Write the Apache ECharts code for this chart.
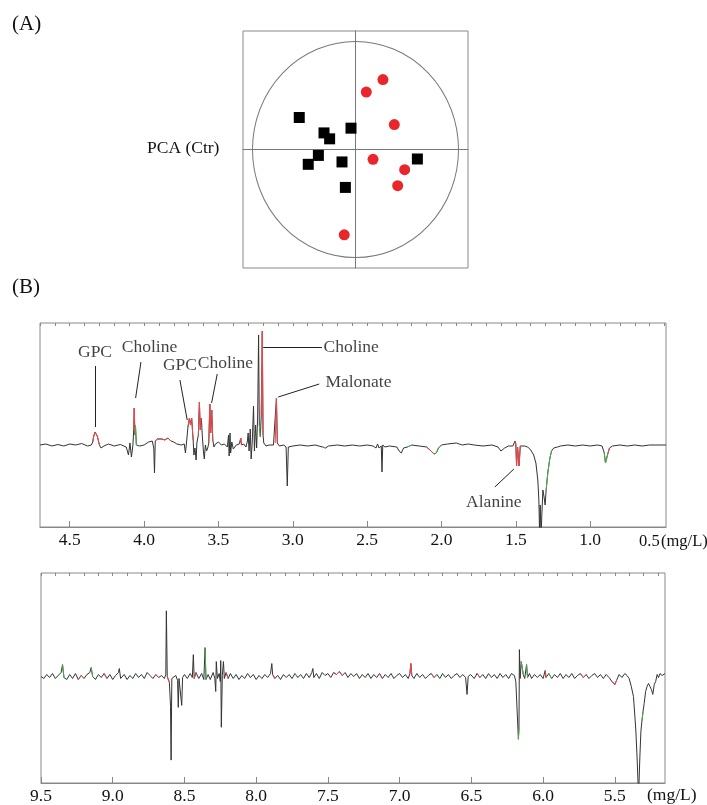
<!DOCTYPE html>
<html>
<head>
<meta charset="utf-8">
<script src="https://cdn.jsdelivr.net/npm/echarts@6/dist/echarts.min.js"></script>
<style>
html, body { margin: 0; padding: 0; background: #fff; }
#myChart { width: 707px; height: 805px; }
</style>
</head>
<body>
<div id="myChart"></div>
<script>
// (A) PCA scores, control (squares) and treated (dots)
var ctrScores = [[-0.50, 0.27], [-0.28, 0.14], [-0.23, 0.09], [-0.04, 0.18], [-0.33, -0.05],
  [-0.42, -0.125], [-0.12, -0.105], [-0.09, -0.32], [0.55, -0.08]];
var trtScores = [[0.244, 0.59], [0.096, 0.485], [0.345, 0.21], [0.156, -0.083], [0.437, -0.17],
  [0.375, -0.305], [-0.10, -0.72]];

// (B) tick labels
var topLabels = [4.5, 4.0, 3.5, 3.0, 2.5, 2.0, 1.5, 1.0];
var bottomLabels = [9.5, 9.0, 8.5, 8.0, 7.5, 7.0, 6.5, 6.0, 5.5];

// (B) upper trace, 4.7 - 0.5 ppm  [ppm, intensity]
var topTrace = [
  [4.70, 0], [4.66, 1], [4.62, -1], [4.58, 0.5], [4.54, -1], [4.50, 1], [4.46, 0], [4.42, 1.5],
  [4.38, -1], [4.355, 0], [4.345, 3], [4.34, 8], [4.33, 13], [4.315, 9], [4.30, 0], [4.29, -3],
  [4.27, -1], [4.24, 1], [4.20, -1], [4.16, 0.5], [4.12, -2], [4.105, -10], [4.095, 2], [4.085, -12],
  [4.075, 0], [4.07, 15], [4.066, 37], [4.062, 10], [4.058, 20], [4.052, 0], [4.03, -1], [4.00, 0],
  [3.97, 3], [3.945, 4], [3.935, -3], [3.930, -28], [3.925, 4], [3.91, 6], [3.90, 4], [3.88, 6],
  [3.86, 5], [3.84, 7], [3.82, 4], [3.80, 3], [3.78, 1], [3.75, 0], [3.73, 1], [3.722, -8],
  [3.715, 2], [3.705, 18], [3.695, 27], [3.688, 20], [3.680, 27], [3.670, 5], [3.665, -10],
  [3.658, -3], [3.650, -15], [3.645, 2], [3.635, 10], [3.628, 43], [3.622, 15], [3.615, 27],
  [3.608, 8], [3.600, -8], [3.595, -14], [3.588, 0], [3.580, -6], [3.572, -3], [3.565, 2],
  [3.558, 41], [3.552, 12], [3.545, 35], [3.538, 5], [3.530, -2], [3.520, 1], [3.50, 3], [3.48, 0],
  [3.46, 1], [3.44, -2], [3.432, 10], [3.428, -11], [3.422, 12], [3.418, -8], [3.41, 3], [3.40, -4],
  [3.38, 0], [3.36, 1], [3.355, 2], [3.35, 7], [3.345, 0], [3.33, 1], [3.315, -2], [3.305, 4],
  [3.300, 12], [3.294, -6], [3.286, 16], [3.280, -14], [3.272, 5], [3.264, 39], [3.258, -6],
  [3.250, 20], [3.243, -3], [3.236, 30], [3.230, 110], [3.225, 20], [3.218, 8], [3.212, 30],
  [3.205, 114], [3.200, 10], [3.195, 2], [3.18, -1], [3.16, 0], [3.13, 0], [3.118, 2], [3.110, 47],
  [3.104, 2], [3.09, -1], [3.06, 0], [3.045, -2], [3.037, -41], [3.030, -2], [3.00, -1], [2.95, 0],
  [2.90, -1], [2.85, 0], [2.80, -2], [2.78, -3], [2.76, -1], [2.70, 0], [2.65, -1], [2.60, 0],
  [2.55, -1], [2.50, 0], [2.46, -1], [2.44, -3], [2.43, 1], [2.42, -3], [2.405, -1], [2.400, -27],
  [2.395, 0], [2.38, -2], [2.35, -1], [2.30, -2], [2.285, -6], [2.27, -8], [2.255, -3], [2.23, -2],
  [2.20, 0], [2.15, -1], [2.10, -2], [2.07, -6], [2.05, -9], [2.035, -8], [2.02, -3], [2.00, 0],
  [1.96, 1], [1.90, 2], [1.86, 0], [1.82, 1], [1.78, 0], [1.72, -1], [1.66, 0], [1.62, -2],
  [1.60, -6], [1.59, -7], [1.575, -3], [1.55, -1], [1.52, -1], [1.505, 4], [1.50, 1], [1.495, -21],
  [1.488, -2], [1.478, -21], [1.470, -1], [1.46, 0], [1.44, -1], [1.42, -2], [1.40, -5], [1.38, -10],
  [1.365, -18], [1.352, -35], [1.345, -55], [1.340, -90], [1.336, -60], [1.330, -90], [1.325, -70],
  [1.318, -45], [1.310, -52], [1.303, -60], [1.296, -45], [1.285, -28], [1.272, -14], [1.26, -6],
  [1.245, -3], [1.22, -2], [1.20, -1], [1.15, 0], [1.10, -1], [1.05, 0], [1.00, -1], [0.95, 0],
  [0.92, -1], [0.905, -8], [0.897, -18], [0.89, -14], [0.88, -8], [0.87, -3], [0.85, -1], [0.80, 0],
  [0.75, -1], [0.70, 0], [0.65, -1], [0.60, 0], [0.55, 0], [0.49, 0]
];
// ppm ranges drawn red / green
var topRed = [[4.30, 4.345], [4.062, 4.07], [3.82, 3.925], [3.670, 3.705], [3.615, 3.635],
  [3.538, 3.565], [3.345, 3.355], [3.200, 3.212], [3.104, 3.118], [2.05, 2.10], [1.47, 1.505],
  [0.87, 0.88]];
var topGreen = [[4.052, 4.062], [3.218, 3.225], [2.78, 2.80], [2.20, 2.23], [2.02, 2.05],
  [1.26, 1.296], [0.88, 0.905]];

// (B) lower trace, 9.5 - 5.15 ppm
var bottomTrace = [
  [9.500, 0], [9.480, -2], [9.460, 2], [9.440, -1], [9.420, 3], [9.400, -2], [9.380, 1], [9.360, 4],
  [9.350, 12], [9.340, -1], [9.320, -3], [9.300, 2], [9.280, -2], [9.260, 3], [9.240, -3], [9.220, 1],
  [9.200, -2], [9.180, 2], [9.160, 4], [9.150, 9], [9.140, 0], [9.120, -3], [9.100, 2], [9.080, -1],
  [9.060, 3], [9.040, -2], [9.020, 2], [9.000, -3], [8.980, 1], [8.960, 4], [8.954, 8], [8.945, -2],
  [8.920, 2], [8.900, -3], [8.880, 1], [8.860, -2], [8.840, 3], [8.820, -1], [8.800, 2], [8.780, -2],
  [8.760, 4], [8.740, 1], [8.720, -2], [8.700, 2], [8.680, -1], [8.660, 1], [8.640, -2], [8.630, 2],
  [8.626, 66], [8.620, 0], [8.605, -6], [8.597, -30], [8.593, -84], [8.588, -2], [8.575, -3],
  [8.560, 1], [8.548, -4], [8.543, -31], [8.538, -2], [8.525, -3], [8.519, -29], [8.513, -1],
  [8.500, 2], [8.480, -2], [8.460, 3], [8.445, -1], [8.438, 22], [8.432, -2], [8.420, 4], [8.400, -2],
  [8.380, 3], [8.365, -3], [8.356, 29], [8.350, -3], [8.335, 2], [8.320, -3], [8.300, 4], [8.288, -2],
  [8.282, -15], [8.278, 15], [8.270, -2], [8.258, 3], [8.250, -5], [8.247, 16], [8.243, -51],
  [8.236, 1], [8.228, 15], [8.222, -2], [8.210, 4], [8.195, -2], [8.180, 3], [8.160, -2], [8.140, 2],
  [8.120, -3], [8.100, 1], [8.080, -2], [8.060, 3], [8.040, -1], [8.020, 2], [8.000, -3], [7.980, 1],
  [7.960, -2], [7.940, 2], [7.920, -1], [7.900, 3], [7.891, 13], [7.885, 2], [7.870, -2], [7.850, 1],
  [7.830, -3], [7.810, 2], [7.790, -1], [7.770, 2], [7.750, -2], [7.730, 3], [7.710, -1], [7.690, 2],
  [7.670, -2], [7.650, 3], [7.630, -1], [7.612, 4], [7.605, 8], [7.598, -1], [7.580, 3], [7.560, -2],
  [7.540, 4], [7.520, 1], [7.500, 3], [7.480, -1], [7.460, 4], [7.440, 2], [7.420, 5], [7.400, 1],
  [7.380, 4], [7.360, -1], [7.340, 3], [7.320, 0], [7.300, 3], [7.280, -2], [7.260, 2], [7.240, -1],
  [7.220, 3], [7.200, -2], [7.180, 2], [7.160, -1], [7.140, 3], [7.120, -2], [7.100, 2], [7.080, -1],
  [7.060, 3], [7.040, -2], [7.020, 1], [7.000, 3], [6.980, -1], [6.960, 2], [6.940, -2], [6.928, 3],
  [6.922, 13], [6.915, 1], [6.900, -2], [6.880, 3], [6.860, -1], [6.840, 2], [6.820, -2], [6.800, 1],
  [6.780, 3], [6.760, -1], [6.740, 2], [6.720, -2], [6.700, 3], [6.680, -1], [6.660, 2], [6.640, -2],
  [6.620, 1], [6.600, 3], [6.580, -1], [6.560, 2], [6.540, -1], [6.530, -18], [6.522, 0], [6.505, 2],
  [6.480, -2], [6.460, 3], [6.440, -1], [6.420, 2], [6.400, -2], [6.380, 3], [6.360, -1], [6.340, 2],
  [6.320, -2], [6.300, 3], [6.280, -1], [6.260, 2], [6.240, -2], [6.220, 3], [6.200, 1], [6.190, -5],
  [6.180, -3], [6.172, -63], [6.168, -52], [6.165, 27], [6.160, -2], [6.152, 15], [6.145, 17],
  [6.138, 2], [6.128, -2], [6.115, 12], [6.108, -1], [6.095, 3], [6.080, -2], [6.060, 2], [6.040, -1],
  [6.020, 2], [6.000, -2], [5.985, 6], [5.980, -1], [5.960, 3], [5.940, -2], [5.920, 2], [5.900, -1],
  [5.880, 3], [5.860, -2], [5.840, 2], [5.820, -1], [5.800, 3], [5.780, -2], [5.760, 1], [5.740, 3],
  [5.720, -1], [5.700, 2], [5.680, -2], [5.660, 1], [5.640, 3], [5.620, -1], [5.600, 2], [5.580, -2],
  [5.560, 2], [5.540, -1], [5.520, -5], [5.500, -8], [5.485, -3], [5.470, 2], [5.450, -1], [5.430, 3],
  [5.415, 1], [5.400, -2], [5.385, -10], [5.370, -20], [5.360, -40], [5.353, -55], [5.345, -80],
  [5.338, -107], [5.332, -110], [5.325, -80], [5.318, -55], [5.311, -45], [5.303, -35], [5.295, -27],
  [5.285, -15], [5.275, -10], [5.265, -7], [5.255, -10], [5.245, -13], [5.235, -18], [5.225, -8],
  [5.215, -5], [5.205, 2], [5.195, -1], [5.185, 3], [5.170, 1], [5.150, 3]
];
var bottomRed = [[9.22, 9.24], [9.04, 9.06], [8.68, 8.70], [8.605, 8.62], [8.42, 8.432],
  [8.195, 8.21], [7.87, 7.885], [7.44, 7.46], [7.40, 7.42], [7.12, 7.14], [6.915, 6.928],
  [6.76, 6.78], [6.44, 6.46], [5.98, 5.985], [5.72, 5.74], [5.485, 5.52]];
var bottomGreen = [[9.34, 9.35], [9.14, 9.15], [8.82, 8.84], [8.35, 8.356], [7.71, 7.73],
  [7.24, 7.26], [6.68, 6.70], [6.36, 6.38], [6.168, 6.172], [6.138, 6.152], [6.108, 6.115],
  [5.94, 5.96], [5.303, 5.311]];

// peak annotations on the upper trace
var peakNames = ['GPC', 'Choline', 'GPC', 'Choline', 'Alanine'];
var peakNameAt = [[4.33, 93], [3.964, 98], [3.759, 80], [3.453, 82], [1.648, -57]];
var peakLeaders = [[[4.33, 79], [4.33, 18]], [[4.021, 83], [4.057, 47]], [[3.759, 65], [3.71, 25]],
  [[3.508, 71], [3.546, 42]], [[1.641, -42], [1.513, -24]]];
var sideNames = ['Choline', 'Malonate'];
var sideNameAt = [[2.797, 98], [2.784, 63]];
var sideLeaders = [[[3.199, 98], [2.804, 98]], [[3.098, 48], [2.822, 61]]];

var serif = 'Liberation Serif';
var ink = '#111';

function pick(trace, ranges) {
  return trace.map(function (p) {
    var hit = ranges.some(function (r) { return p[0] >= r[0] - 1e-6 && p[0] <= r[1] + 1e-6; });
    return hit ? p : [p[0], '-'];
  });
}
function tenths(lo, hi) {
  var out = [];
  for (var i = Math.round(lo * 10); i <= Math.round(hi * 10); i++) out.push(i / 10);
  return out;
}
function traceSeries(data, color, xi, yi, z) {
  return {
    type: 'line', xAxisIndex: xi, yAxisIndex: yi, data: data, showSymbol: false, symbol: 'none',
    lineStyle: { color: color, width: 1 }, z: z, silent: true
  };
}
function specAxis(grid, lo, hi, labels) {
  return [{
    gridIndex: grid, type: 'value', inverse: true, min: lo, max: hi,
    axisLine: { show: true, onZero: false, lineStyle: { color: '#888' } },
    axisTick: { show: true, inside: true, length: 6, customValues: labels, lineStyle: { color: '#888' } },
    axisLabel: {
      customValues: labels, margin: 4, color: ink, fontFamily: serif, fontSize: 17.5,
      formatter: function (v) { return v.toFixed(1); }
    },
    splitLine: { show: false }
  }, {
    gridIndex: grid, type: 'value', inverse: true, min: lo, max: hi,
    axisLine: { show: false, onZero: false },
    axisTick: { show: true, inside: true, length: 3, customValues: tenths(Math.ceil(lo * 10) / 10, hi), lineStyle: { color: '#888' } },
    axisLabel: { show: false },
    splitLine: { show: false }
  }];
}
function note(text, left, top, size) {
  return { type: 'text', left: left, top: top, style: { text: text, font: size + 'px "Liberation Serif"', fill: ink } };
}

var myChart = echarts.init(document.getElementById('myChart'));

var labelSeries = {
  type: 'scatter', xAxisIndex: 1, yAxisIndex: 1, symbolSize: 1, silent: true, z: 10,
  itemStyle: { color: 'rgba(0,0,0,0)' },
  label: { show: true, formatter: '{b}', color: ink, fontFamily: serif, fontSize: 17.5 },
  data: peakNames.map(function (n, i) {
    return { name: n, value: peakNameAt[i], label: { position: 'inside' } };
  }).concat(sideNames.map(function (n, i) {
    return { name: n, value: sideNameAt[i], label: { position: 'right', distance: 0 } };
  })),
  markLine: {
    silent: true, symbol: ['none', 'none'], animation: false,
    label: { show: false },
    lineStyle: { color: '#222', width: 1, type: 'solid' },
    data: peakLeaders.concat(sideLeaders).map(function (l) {
      return [{ coord: l[0] }, { coord: l[1] }];
    })
  }
};

var option = {
  animation: false,
  backgroundColor: '#fff',
  grid: [
    { left: 243, top: 31, width: 225, height: 237, show: true, borderColor: '#8a8a8a', borderWidth: 1 },
    { left: 40, top: 323, width: 626, height: 204, show: true, borderColor: '#8a8a8a', borderWidth: 1 },
    { left: 41, top: 573, width: 624, height: 211, show: true, borderColor: '#8a8a8a', borderWidth: 1 }
  ],
  xAxis: [{
    gridIndex: 0, type: 'value', min: -1, max: 1,
    axisLine: { show: true, onZero: true, lineStyle: { color: '#777' } },
    axisTick: { show: false }, axisLabel: { show: false }, splitLine: { show: false }
  }].concat(specAxis(1, 0.49, 4.7, topLabels), specAxis(2, 5.15, 9.5, bottomLabels)),
  yAxis: [
    {
      gridIndex: 0, type: 'value', min: -1, max: 1,
      axisLine: { show: true, onZero: true, lineStyle: { color: '#777' } },
      axisTick: { show: false }, axisLabel: { show: false }, splitLine: { show: false }
    },
    { gridIndex: 1, type: 'value', min: -82, max: 122, show: false },
    { gridIndex: 2, type: 'value', min: -107, max: 104, show: false }
  ],
  graphic: [
    note('(A)', 12, 14, 21),
    note('(B)', 12, 277, 21),
    note('PCA (Ctr)', 147, 139, 17.5),
    note('0.5', 639, 533, 16.5),
    note('(mg/L)', 661, 533, 16.5),
    note('(mg/L)', 647, 786, 17.5)
  ],
  series: [
    {
      type: 'scatter', xAxisIndex: 0, yAxisIndex: 0, data: [[0, 0]], symbol: 'circle',
      symbolSize: [206, 216], silent: true, z: 1,
      itemStyle: { color: 'rgba(0,0,0,0)', borderColor: '#777', borderWidth: 1, opacity: 1 }
    },
    {
      name: 'Ctr', type: 'scatter', xAxisIndex: 0, yAxisIndex: 0, data: ctrScores,
      symbol: 'rect', symbolSize: 11, itemStyle: { color: '#000', opacity: 1 }, z: 5
    },
    {
      name: 'Trt', type: 'scatter', xAxisIndex: 0, yAxisIndex: 0, data: trtScores,
      symbol: 'circle', symbolSize: 11, itemStyle: { color: '#e8262b', opacity: 1 }, z: 5
    },
    traceSeries(topTrace, '#333', 1, 1, 2),
    traceSeries(pick(topTrace, topRed), '#f0464a', 1, 1, 3),
    traceSeries(pick(topTrace, topGreen), '#4fb04f', 1, 1, 3),
    labelSeries,
    traceSeries(bottomTrace, '#333', 3, 2, 2),
    traceSeries(pick(bottomTrace, bottomRed), '#f0464a', 3, 2, 3),
    traceSeries(pick(bottomTrace, bottomGreen), '#4fb04f', 3, 2, 3)
  ]
};

window.onresize = myChart.resize;
myChart.setOption(option);
</script>
</body>
</html>
